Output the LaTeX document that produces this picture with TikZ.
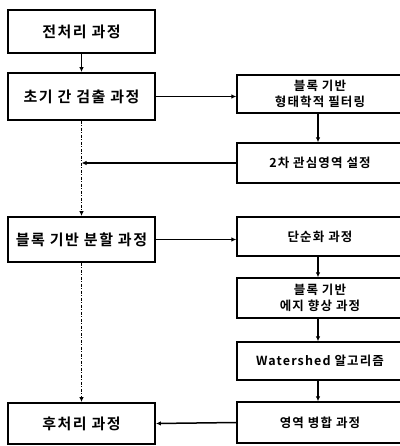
\documentclass[tikz,border=0pt]{standalone}
\usepackage{fontspec}
\setmainfont{Noto Sans CJK KR}[BoldFont={Noto Sans CJK KR Bold}]
\newfontfamily\krL{Noto Sans CJK KR Bold}[LetterSpace=10]
\newfontfamily\krR{Noto Sans CJK KR Bold}[LetterSpace=9]
\usetikzlibrary{arrows.meta}
\begin{document}
\begin{tikzpicture}[x=1pt,y=-1pt,
  lbox/.style={draw,line width=1.8pt,minimum width=147pt,inner sep=0pt,font=\krL\fontsize{15}{17}\selectfont},
  rbox/.style={draw,line width=1.3pt,minimum width=166pt,inner sep=0pt,align=center,font=\krR\fontsize{12.5}{16}\selectfont},
  arr/.style={line width=1.5pt,-{Latex[length=5pt,width=4.5pt]}},
  dotarr/.style={line width=1.1pt,dash pattern=on 3pt off 1.5pt on 1pt off 1.5pt,-{Latex[length=5pt,width=4.5pt]}}]
\useasboundingbox (0,0) rectangle (399,446);
\node[lbox,minimum height=43pt] (p1) at (81.5,31.5) {전처리 과정};
\node[lbox,minimum height=47pt] (p2) at (81.5,96.5) {초기 간 검출 과정};
\node[lbox,minimum height=45pt] (p3) at (81.5,239.5) {블록 기반 분할 과정};
\node[lbox,minimum height=41pt] (p4) at (81.5,423.5) {후처리 과정};
\node[rbox,minimum height=38pt] (r1) at (320,94) {블록 기반\\형태학적 필터링};
\node[rbox,minimum height=40pt] (r2) at (320,163) {2차 관심영역 설정};
\node[rbox,minimum height=39pt] (r3) at (320,236.5) {단순화 과정};
\node[rbox,minimum height=40pt] (r4) at (320,298) {블록 기반\\에지 향상 과정};
\node[rbox,minimum height=38pt] (r5) at (320,361) {Watershed 알고리즘};
\node[rbox,minimum height=41pt] (r6) at (320,422.5) {영역 병합 과정};
\draw[arr] (p1.south) -- (p2.north);
\draw[arr] (p2.east) -- (p2.east -| r1.west);
\draw[arr] ([xshift=-2pt]r1.south) -- ([xshift=-2pt]r2.north);
\draw[arr] (r2.west) -- (r2.west -| p2.south);
\draw[dotarr] (p2.south) -- (p3.north);
\draw[arr] (p3.east) -- (p3.east -| r3.west);
\draw[arr] ([xshift=-2pt]r3.south) -- ([xshift=-2pt]r4.north);
\draw[arr] ([xshift=-2pt]r4.south) -- ([xshift=-2pt]r5.north);
\draw[arr] ([xshift=-2pt]r5.south) -- ([xshift=-2pt]r6.north);
\draw[dotarr] (p3.south) -- (p4.north);
\draw[arr] (r6.west) -- (p4.east);
\end{tikzpicture}
\end{document}
